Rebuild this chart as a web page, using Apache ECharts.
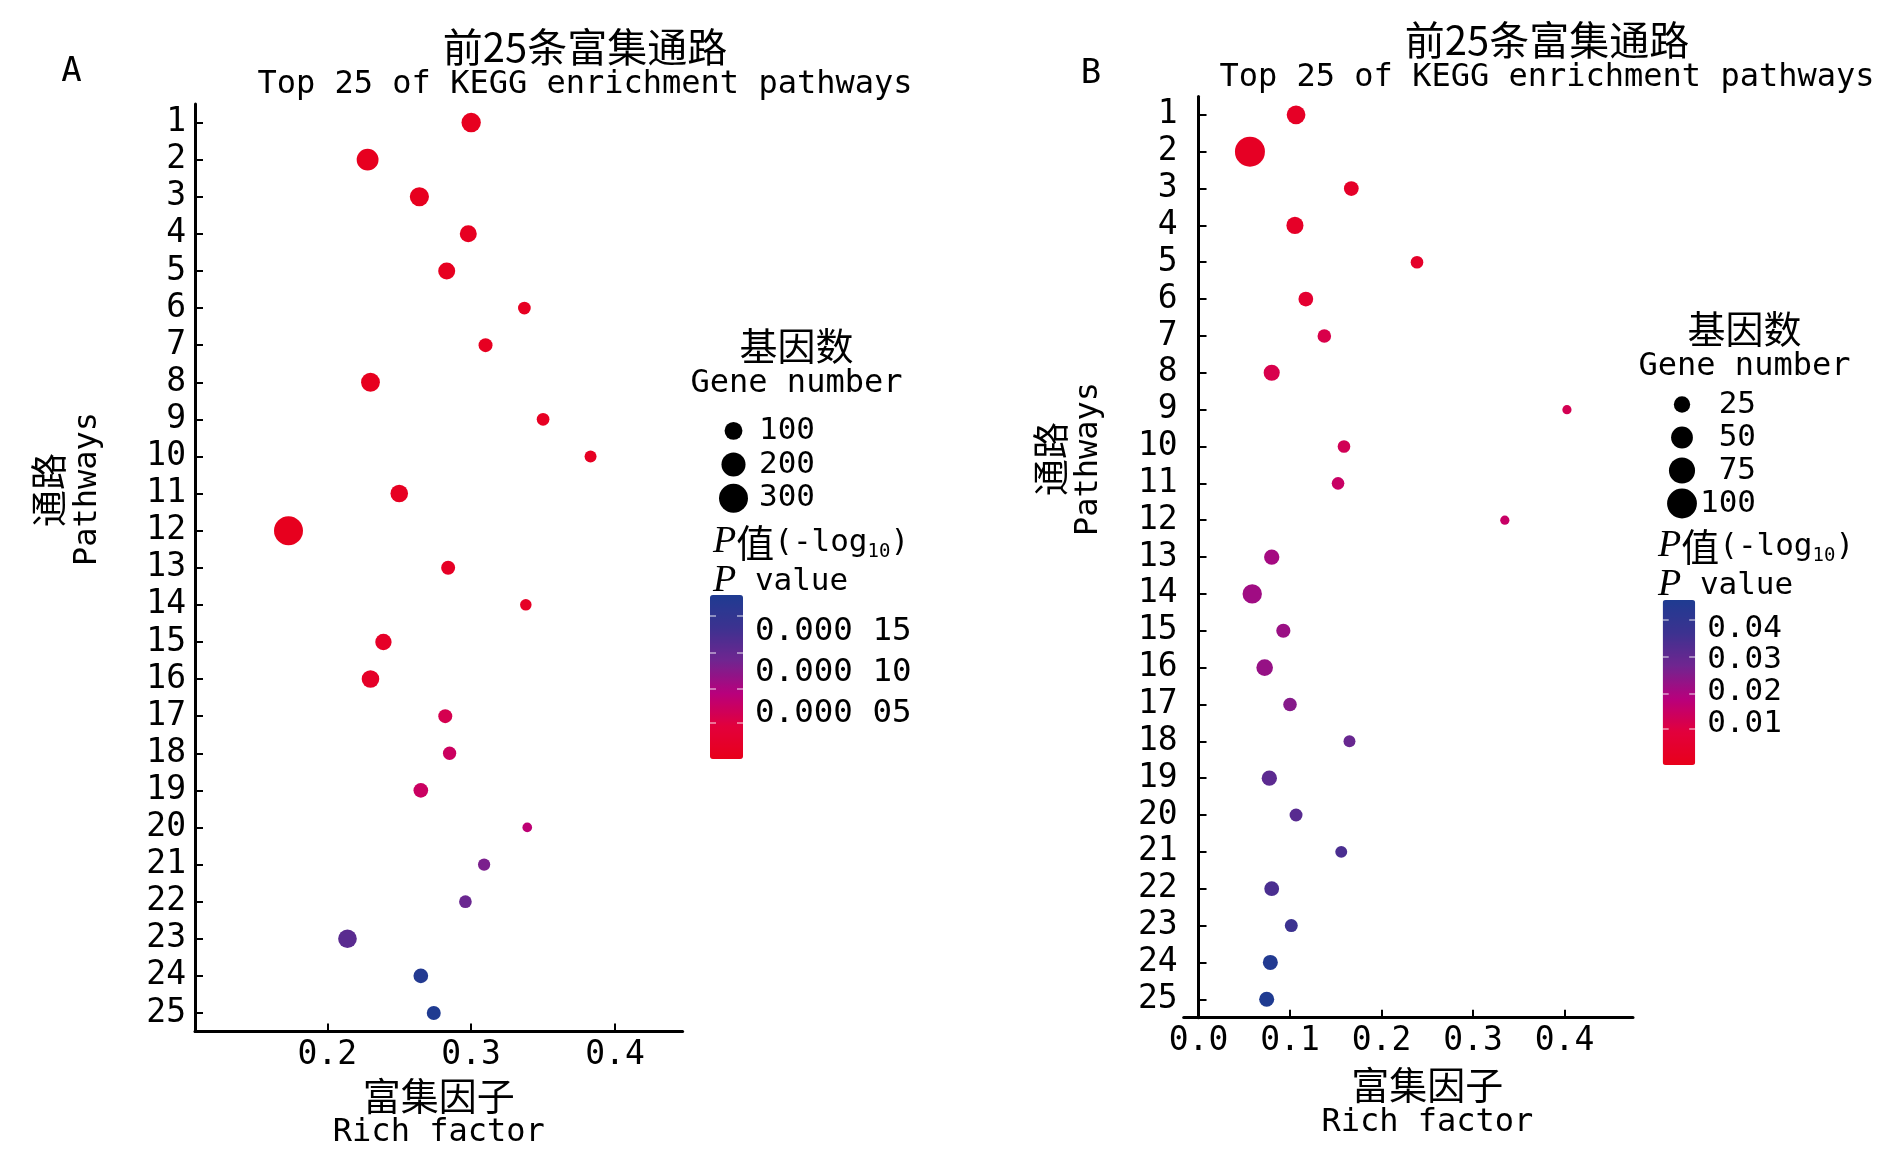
<!DOCTYPE html>
<html>
<head>
<meta charset="utf-8">
<title>前25条富集通路</title>
<script src="https://cdn.jsdelivr.net/npm/echarts@6/dist/echarts.min.js"></script>
<style>
    html, body { margin: 0; padding: 0; background: #fff; }
    #chart { width: 1890px; height: 1163px; }
</style>
</head>
<body>
<div id="chart"></div>
<script>
// 通路编号
var pathways = ['1', '2', '3', '4', '5', '6', '7', '8', '9', '10', '11', '12', '13',
    '14', '15', '16', '17', '18', '19', '20', '21', '22', '23', '24', '25'];

// 图A：富集因子 / 基因数 / P值
var richA = [0.300, 0.228, 0.264, 0.298, 0.283, 0.337, 0.310, 0.230, 0.350, 0.383, 0.250, 0.173, 0.284,
    0.338, 0.239, 0.230, 0.282, 0.285, 0.265, 0.339, 0.309, 0.296, 0.214, 0.265, 0.274];
var genesA = [122, 160, 118, 88, 88, 39, 52, 113, 39, 32, 96, 300, 52,
    28, 80, 96, 52, 45, 60, 13, 35, 39, 111, 60, 52];
var pvalA = [0.000002, 0.0000005, 0.000001, 0.000003, 0.000002, 0.000004, 0.000003, 0.000001, 0.000005,
    0.000006, 0.000004, 0.0000001, 0.000008, 0.000009, 0.000011, 0.000012, 0.000047, 0.000057,
    0.000058, 0.000070, 0.000109, 0.000120, 0.000132, 0.000190, 0.000195];

// 图B
var richB = [0.1066, 0.0562, 0.167, 0.1054, 0.2388, 0.1173, 0.1375, 0.080, 0.4027, 0.159, 0.1525, 0.3348, 0.080,
    0.0587, 0.0927, 0.0723, 0.100, 0.165, 0.0774, 0.1066, 0.156, 0.080, 0.1014, 0.0785, 0.0745];
var genesB = [35, 101, 19, 28, 12, 19, 15, 24, 3, 12, 12, 3, 21,
    38, 17, 26, 15, 10, 21, 13, 10, 19, 13, 20, 20];
var pvalB = [0.0008, 0.0002, 0.0015, 0.0012, 0.0018, 0.004, 0.0097, 0.010, 0.011, 0.0115, 0.0139, 0.014, 0.0205,
    0.0212, 0.0222, 0.0227, 0.025, 0.0298, 0.0322, 0.033, 0.0358, 0.0358, 0.0386, 0.048, 0.049];

// 坐标轴刻度
var xTicksA = [0.2, 0.3, 0.4];
var xTicksB = [0.0, 0.1, 0.2, 0.3, 0.4];

// 图例：基因数
var sizeLegendA = [100, 200, 300];
var sizeLegendB = [25, 50, 75, 100];

// 色条标签和刻度
var cbLabelsA = [0.00005, 0.0001, 0.00015];
var cbTextA = ['0.000 05', '0.000 10', '0.000 15'];
var cbTicksA = [0.0000393, 0.0000804, 0.0001251, 0.0001698];
var cbLabelsB = [0.01, 0.02, 0.03, 0.04];
var cbTicksB = [0.0083, 0.0196, 0.0311, 0.0427];

var cbColors = ['#e8001a', '#e2003c', '#b8007c', '#702590', '#3c3290', '#1f3b91'];

var mono = "'DejaVu Sans Mono', 'Noto Sans CJK SC', monospace";
var cjk = "'Noto Sans CJK SC', sans-serif";

function sizeA(c) { return Math.sqrt(60 + 2.6 * c); }
function sizeB(c) { return Math.sqrt(60 + 8.3 * c); }

function richStyles() {
    return {
        cn: { fontFamily: cjk, fontSize: 38, lineHeight: 38, fontWeight: 'normal', color: '#000' },
        cnt: { fontFamily: cjk, fontSize: 40, lineHeight: 38, fontWeight: 'normal', color: '#000' },
        en: { fontFamily: mono, fontSize: 32, lineHeight: 37, fontWeight: 'normal', color: '#000' },
        pi: { fontFamily: "'Liberation Serif', serif", fontStyle: 'italic', fontSize: 38, lineHeight: 39, fontWeight: 'normal', color: '#000' },
        m: { fontFamily: mono, fontSize: 31, lineHeight: 39, fontWeight: 'normal', color: '#000' },
        sub: { fontFamily: mono, fontSize: 19, lineHeight: 39, verticalAlign: 'bottom', fontWeight: 'normal', color: '#000' }
    };
}

function mainX(min, max, ticks, gridIndex, nameGap, namePad) {
    return {
        type: 'value', gridIndex: gridIndex, min: min, max: max,
        name: '{cn|富集因子}\n{en|Rich factor}',
        nameLocation: 'middle', nameGap: nameGap,
        nameTextStyle: { rich: richStyles(), padding: namePad },
        axisLine: { show: true, lineStyle: { color: '#000', width: 3 } },
        axisTick: { show: true, inside: true, length: 8, customValues: ticks, lineStyle: { color: '#000', width: 2 } },
        axisLabel: {
            customValues: ticks, margin: 7, color: '#000', fontFamily: mono, fontSize: 33,
            showMinLabel: true, showMaxLabel: true,
            formatter: function(v) { return v.toFixed(1); }
        },
        splitLine: { show: false }
    };
}

function mainY(gridIndex, margin) {
    return {
        type: 'category', gridIndex: gridIndex, data: pathways, inverse: true,
        axisLine: { show: true, lineStyle: { color: '#000', width: 3 } },
        axisTick: { show: true, inside: true, alignWithLabel: true, interval: 0, length: 8, lineStyle: { color: '#000', width: 2 } },
        axisLabel: { interval: 0, margin: margin, color: '#000', fontFamily: mono, fontSize: 33 },
        splitLine: { show: false }
    };
}

function hiddenX(gridIndex) {
    return { type: 'value', gridIndex: gridIndex, min: 0, max: 1, show: false };
}

function legendY(gridIndex, labels, align, margin) {
    return {
        type: 'category', gridIndex: gridIndex, data: labels, inverse: true, position: 'right',
        axisLine: { show: false }, axisTick: { show: false },
        axisLabel: { interval: 0, margin: margin, align: align, color: '#000', fontFamily: mono, fontSize: 31 }
    };
}

function cbY(gridIndex, min, max, pos, ticks, labels, fmt, fontSize) {
    return {
        type: 'value', gridIndex: gridIndex, min: min, max: max, position: pos, z: 10,
        axisLine: { show: false },
        axisTick: { show: true, inside: true, length: 6, customValues: ticks, lineStyle: { color: 'rgba(255,255,255,0.6)', width: 1.5 } },
        axisLabel: labels ? {
            customValues: labels, margin: 12, color: '#000', fontFamily: mono, fontSize: fontSize,
            showMinLabel: true, showMaxLabel: true, formatter: fmt
        } : { show: false },
        splitLine: { show: false }
    };
}

var seriesA = richA.map(function(v, i) { return [v, i, genesA[i], pvalA[i]]; });
var seriesB = richB.map(function(v, i) { return [v, i, genesB[i], pvalB[i]]; });

var chart = echarts.init(document.getElementById('chart'));
var option = {
    animation: false,
    backgroundColor: '#fff',
    title: [
        { text: 'A', left: 71.5, top: 52, textAlign: 'center', padding: 0,
          textStyle: { fontFamily: mono, fontSize: 34, fontWeight: 'normal', lineHeight: 40, color: '#000' } },
        { text: 'B', left: 1091, top: 54, textAlign: 'center', padding: 0,
          textStyle: { fontFamily: mono, fontSize: 34, fontWeight: 'normal', lineHeight: 40, color: '#000' } },
        { text: '{cnt|前25条富集通路}\n{en|Top 25 of KEGG enrichment pathways}', left: 585, top: 28, textAlign: 'center', padding: 0,
          textStyle: { fontWeight: 'normal', rich: richStyles() } },
        { text: '{cnt|前25条富集通路}\n{en|Top 25 of KEGG enrichment pathways}', left: 1547, top: 21, textAlign: 'center', padding: 0,
          textStyle: { fontWeight: 'normal', rich: richStyles() } },
        { text: '{cn|基因数}\n{en|Gene number}', left: 796.5, top: 327, textAlign: 'center', padding: 0,
          textStyle: { fontWeight: 'normal', rich: richStyles() } },
        { text: '{cn|基因数}\n{en|Gene number}', left: 1744.5, top: 310, textAlign: 'center', padding: 0,
          textStyle: { fontWeight: 'normal', rich: richStyles() } },
        { text: '{pi|P}{cn|值}{m|(-log}{sub|10}{m|)}\n{pi|P}{m| value}', left: 713, top: 523, textAlign: 'left', padding: 0,
          textStyle: { fontWeight: 'normal', rich: richStyles() } },
        { text: '{pi|P}{cn|值}{m|(-log}{sub|10}{m|)}\n{pi|P}{m| value}', left: 1658, top: 527, textAlign: 'left', padding: 0,
          textStyle: { fontWeight: 'normal', rich: richStyles() } }
    ],
    graphic: [
        { type: 'text', x: 48.5, y: 490, rotation: Math.PI / 2,
          style: { text: '通路', font: "37px 'Noto Sans CJK SC'", fill: '#000', align: 'center', verticalAlign: 'middle' } },
        { type: 'text', x: 88, y: 489, rotation: Math.PI / 2,
          style: { text: 'Pathways', font: "32px 'DejaVu Sans Mono'", fill: '#000', align: 'center', verticalAlign: 'middle' } },
        { type: 'text', x: 1051, y: 459, rotation: Math.PI / 2,
          style: { text: '通路', font: "37px 'Noto Sans CJK SC'", fill: '#000', align: 'center', verticalAlign: 'middle' } },
        { type: 'text', x: 1089, y: 459, rotation: Math.PI / 2,
          style: { text: 'Pathways', font: "32px 'DejaVu Sans Mono'", fill: '#000', align: 'center', verticalAlign: 'middle' } }
    ],
    grid: [
        { left: 195, top: 104, width: 487.6, height: 927.5 },      // A 主图
        { left: 1183.7, top: 96.4, width: 449.3, height: 921.3 },  // B 主图
        { left: 713, top: 414, width: 41, height: 101 },           // A 基因数图例
        { left: 1661, top: 388, width: 42, height: 132 },          // B 基因数图例
        { left: 710, top: 595, width: 33, height: 164 },           // A 色条
        { left: 1662.7, top: 600, width: 32.5, height: 165 }       // B 色条
    ],
    xAxis: [
        mainX(0.108, 0.447, xTicksA, 0, 39, [0, 0, 0, 0]),
        mainX(-0.0162, 0.4749, xTicksB, 1, 48, [0, 0, 0, 38]),
        hiddenX(2), hiddenX(3), hiddenX(4), hiddenX(5)
    ],
    yAxis: [
        mainY(0, 9),
        mainY(1, 6),
        legendY(2, sizeLegendA.map(String), 'left', 5),
        legendY(3, sizeLegendB.map(String), 'right', 53),
        cbY(4, -0.000005, 0.000195, 'left', cbTicksA, null),
        cbY(4, -0.000005, 0.000195, 'right', cbTicksA, cbLabelsA, function(v) {
            for (var i = 0; i < cbLabelsA.length; i++) {
                if (Math.abs(v - cbLabelsA[i]) < 1e-9) return cbTextA[i];
            }
            return '';
        }, 32.5),
        cbY(5, -0.003, 0.049, 'left', cbTicksB, null),
        cbY(5, -0.003, 0.049, 'right', cbTicksB, cbLabelsB, function(v) { return v.toFixed(2); }, 31)
    ],
    visualMap: [
        { type: 'continuous', seriesIndex: 0, dimension: 3, min: -0.000005, max: 0.000195,
          left: 710, top: 595, itemWidth: 33, itemHeight: 164, padding: 0, calculable: false,
          inRange: { color: cbColors } },
        { type: 'continuous', seriesIndex: 1, dimension: 3, min: -0.003, max: 0.049,
          left: 1662.7, top: 600, itemWidth: 32.5, itemHeight: 165, padding: 0, calculable: false,
          inRange: { color: cbColors } }
    ],
    series: [
        { type: 'scatter', xAxisIndex: 0, yAxisIndex: 0, data: seriesA, itemStyle: { opacity: 1 },
          symbolSize: function(d) { return sizeA(d[2]); } },
        { type: 'scatter', xAxisIndex: 1, yAxisIndex: 1, data: seriesB, itemStyle: { opacity: 1 },
          symbolSize: function(d) { return sizeB(d[2]); } },
        { type: 'scatter', xAxisIndex: 2, yAxisIndex: 2, itemStyle: { color: '#000', opacity: 1 },
          data: sizeLegendA.map(function(c, i) { return [0.5, i, c]; }),
          symbolSize: function(d) { return sizeA(d[2]); } },
        { type: 'scatter', xAxisIndex: 3, yAxisIndex: 3, itemStyle: { color: '#000', opacity: 1 },
          data: sizeLegendB.map(function(c, i) { return [0.5, i, c]; }),
          symbolSize: function(d) { return sizeB(d[2]); } }
    ]
};
chart.setOption(option);
</script>
</body>
</html>
